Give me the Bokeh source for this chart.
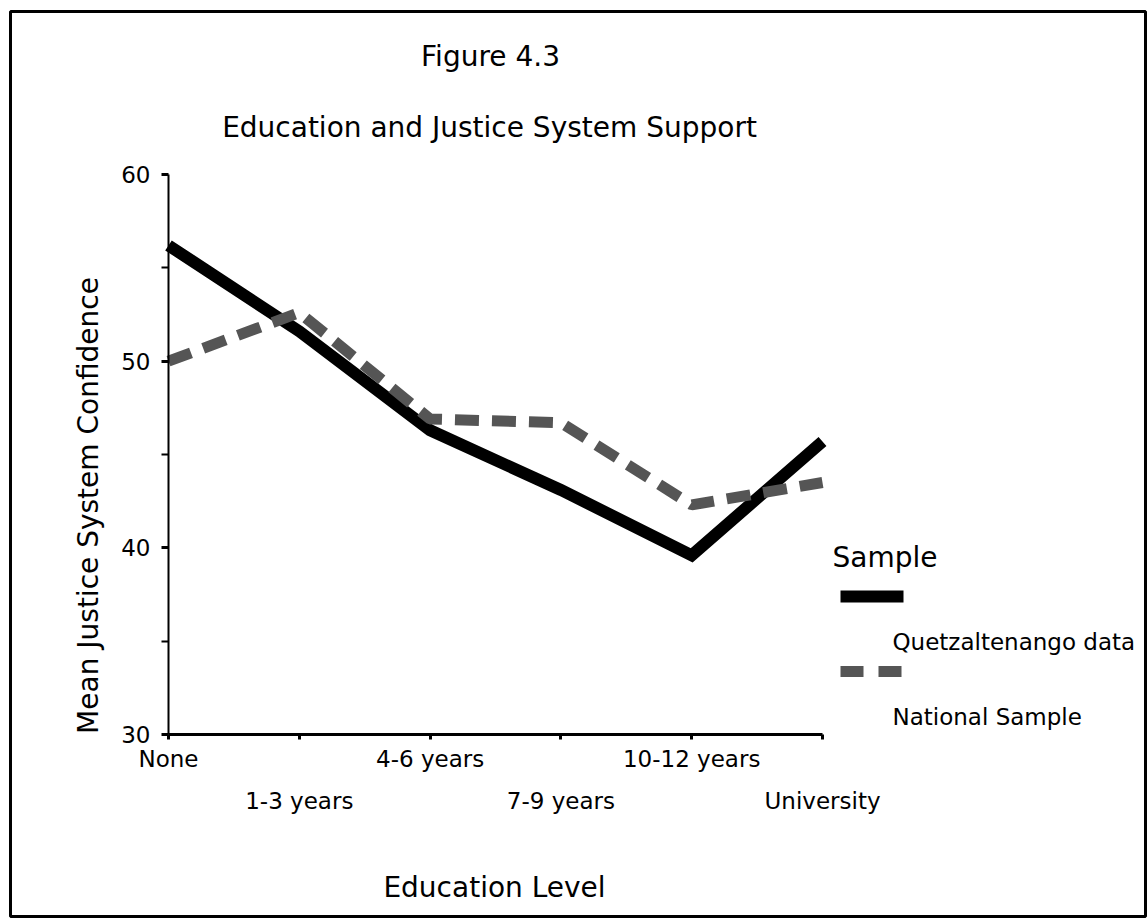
import math
from bokeh.plotting import figure
from bokeh.models import Range1d, FixedTicker, LinearAxis, Label, BoxAnnotation, Arrow
from bokeh.embed import file_html
from bokeh.resources import INLINE

# ---- data ----
categories = ["None", "1-3 years", "4-6 years", "7-9 years", "10-12 years", "University"]
quetzaltenango = [56.2, 51.6, 46.3, 43.1, 39.6, 45.7]
national = [50.0, 52.6, 46.9, 46.7, 42.3, 43.5]
y_ticks = [30, 40, 50, 60]
y_minor_ticks = [35, 45, 55]
series_names = ["Quetzaltenango data", "National Sample"]

FONT = "DejaVu Sans"
W, H = 1148, 921
# pixel box of the chart area inside the canvas
PL, PR, PT, PB = 168, 822, 174, 734
X0, X1 = 0, len(categories) - 1
Y0, Y1 = min(y_ticks), max(y_ticks)
XS = (PR - PL) / (X1 - X0)   # px per x unit
YS = (PB - PT) / (Y1 - Y0)   # px per y unit
DASH_COLOR = "#555555"


def dx(px):
    return X0 + (px - PL) / XS


def dy(py):
    return Y1 - (py - PT) / YS


# the frame covers the whole canvas; the ranges put the chart box where it belongs
p = figure(width=W, height=H,
           x_range=Range1d(dx(0), dx(W)), y_range=Range1d(dy(H), dy(0)),
           output_backend="svg", toolbar_location=None,
           min_border_left=0, min_border_right=0, min_border_top=0, min_border_bottom=0)
p.title.visible = False
p.outline_line_color = None
p.xgrid.visible = False
p.ygrid.visible = False
p.background_fill_color = "white"
p.border_fill_color = "white"

idx = list(range(len(categories)))
p.line(idx, quetzaltenango, line_color="black", line_width=12, line_join="miter")
p.line(idx, national, line_color=DASH_COLOR, line_width=11, line_dash="24 13")

# x axis (even labels on the first row, odd labels on the second)
xa = p.xaxis[0]
xa.fixed_location = Y0
xa.bounds = (X0, X1)
xa.ticker = FixedTicker(ticks=idx)
xa.major_label_overrides = {i: (c if i % 2 == 0 else "") for i, c in enumerate(categories)}
xa.axis_line_width = 3
xa.major_tick_out = 5
xa.major_tick_in = 0
xa.major_tick_line_width = 3
xa.minor_tick_line_color = None
xa.major_label_standoff = 6
xa.major_label_text_font = FONT
xa.major_label_text_font_size = "23px"
xa.major_label_text_color = "black"

odd = idx[1::2]
xa2 = LinearAxis(ticker=FixedTicker(ticks=odd), fixed_location=Y0,
                 major_label_overrides={i: categories[i] for i in odd},
                 axis_line_color=None, major_tick_line_color=None, minor_tick_line_color=None,
                 major_tick_out=0, major_tick_in=0, minor_tick_out=0, minor_tick_in=0,
                 major_label_standoff=53, major_label_text_font=FONT,
                 major_label_text_font_size="23px", major_label_text_color="black")
p.add_layout(xa2, "below")

# y axis
ya = p.yaxis[0]
ya.fixed_location = X0
ya.bounds = (Y0, Y1)
ya.ticker = FixedTicker(ticks=y_ticks, minor_ticks=y_minor_ticks)
ya.axis_line_width = 2
ya.major_tick_out = 7
ya.major_tick_in = 0
ya.minor_tick_out = 7
ya.minor_tick_in = 0
ya.major_tick_line_width = 3
ya.minor_tick_line_width = 2
ya.major_label_standoff = 11
ya.major_label_text_font = FONT
ya.major_label_text_font_size = "23px"
ya.major_label_text_color = "black"


def add_text(text, px, py, size, align="left", angle=0.0):
    # px, py: wanted baseline position; the renderer sits ~0.29 em low
    shift = 0.29 * size
    if angle:
        px -= shift
    else:
        py -= shift
    p.add_layout(Label(x=dx(px), y=dy(py), text=text, text_align=align,
                       text_baseline="alphabetic", text_font=FONT,
                       text_font_size=f"{size}px", text_color="black", angle=angle))


# titles and axis titles
add_text("Figure 4.3", 490, 64, 28, "center")
add_text("Education and Justice System Support", 489, 135, 28, "center")
add_text("Education Level", 494, 895, 28, "center")
add_text("Mean Justice System Confidence", 96, 505, 28, "center", math.pi / 2)

# legend
add_text("Sample", 832, 565, 28)
p.add_layout(BoxAnnotation(left=dx(840), right=dx(903), top=dy(590), bottom=dy(602),
                           fill_color="black", fill_alpha=1.0, line_color=None))
add_text(series_names[0], 892, 648, 23)
p.add_layout(Arrow(x_start=dx(840), y_start=dy(671), x_end=dx(903), y_end=dy(671), end=None,
                   line_width=11, line_color=DASH_COLOR, line_dash="23 15"))
add_text(series_names[1], 892, 723, 23)

# outer frame
p.add_layout(BoxAnnotation(left=dx(10), right=dx(1145), top=dy(11), bottom=dy(916),
                           fill_color=None, fill_alpha=0.0, line_color="black",
                           line_alpha=1.0, line_width=3))

open("out.html", "w").write(file_html(p, INLINE))
